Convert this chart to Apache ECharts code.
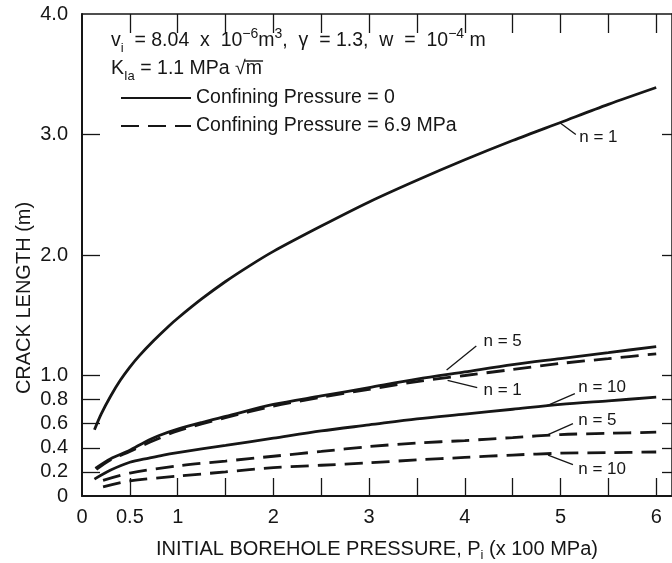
<!DOCTYPE html>
<html>
<head>
<meta charset="utf-8">
<script src="https://cdn.jsdelivr.net/npm/echarts@6/dist/echarts.min.js"></script>
<style>html,body{margin:0;background:#fff}#main{width:672px;height:563px}</style>
</head>
<body>
<div id="main"></div>
<script>
// x = initial borehole pressure (x 100 MPa), y = crack length (m)
var solidN1X = [0.13, 0.2, 0.3, 0.4, 0.5, 0.6, 0.75, 0.9, 1, 1.25, 1.5, 1.75, 2, 2.5, 3, 3.5, 4, 4.5, 5, 5.5, 6];
var solidN1Y = [0.55, 0.68, 0.83, 0.96, 1.07, 1.165, 1.29, 1.405, 1.475, 1.635, 1.78, 1.91, 2.03, 2.24, 2.44, 2.62, 2.79, 2.95, 3.10, 3.25, 3.39];
var solidN5X = [0.14, 0.3, 0.5, 0.65, 0.8, 1, 1.25, 1.5, 2, 2.5, 3, 3.5, 4, 4.5, 5, 5.5, 6];
var solidN5Y = [0.23, 0.31, 0.38, 0.445, 0.50, 0.555, 0.61, 0.66, 0.76, 0.83, 0.90, 0.97, 1.03, 1.09, 1.14, 1.19, 1.24];
var solidN10X = [0.13, 0.3, 0.5, 0.7, 0.85, 1, 1.5, 2, 2.5, 3, 3.5, 4, 4.5, 5, 5.5, 6];
var solidN10Y = [0.14, 0.215, 0.28, 0.315, 0.34, 0.36, 0.42, 0.48, 0.54, 0.59, 0.64, 0.68, 0.72, 0.76, 0.79, 0.82];
var dashN1X = [0.15, 0.3, 0.5, 0.75, 1, 1.5, 2, 2.5, 3, 3.5, 4, 4.5, 5, 5.5, 6];
var dashN1Y = [0.22, 0.30, 0.37, 0.46, 0.54, 0.65, 0.745, 0.82, 0.885, 0.95, 1.0, 1.05, 1.10, 1.14, 1.18];
var dashN5X = [0.22, 0.5, 1, 1.5, 2, 2.5, 3, 3.5, 4, 4.5, 5, 5.5, 6];
var dashN5Y = [0.13, 0.19, 0.25, 0.29, 0.33, 0.37, 0.41, 0.44, 0.46, 0.485, 0.51, 0.52, 0.53];
var dashN10X = [0.22, 0.5, 1, 1.5, 2, 2.5, 3, 3.5, 4, 4.5, 5, 5.5, 6];
var dashN10Y = [0.075, 0.125, 0.165, 0.20, 0.235, 0.255, 0.275, 0.30, 0.32, 0.34, 0.355, 0.36, 0.365];

var xTicks = [0.5, 1, 1.5, 2, 2.5, 3, 3.5, 4, 4.5, 5, 5.5, 6];
var xLabels = [0, 0.5, 1, 2, 3, 4, 5, 6];
var yTicks = [0.2, 0.4, 0.6, 0.8, 1, 2, 3];
var yLabels = [0, 0.2, 0.4, 0.6, 0.8, 1, 2, 3, 4];

// curve annotations: text position, arrow tail, arrow tip (data coords)
var noteText = ['n = 1', 'n = 5', 'n = 1', 'n = 10', 'n = 5', 'n = 10'];
var notePos = [[5.18, 2.98], [4.18, 1.28], [4.18, 0.88], [5.17, 0.90], [5.17, 0.63], [5.17, 0.22]];
var noteTail = [[5.16, 3.0], [4.12, 1.245], [4.13, 0.90], [5.15, 0.85], [5.13, 0.60], [5.13, 0.26]];
var noteTip = [[4.99, 3.10], [3.81, 1.046], [3.82, 0.96], [4.86, 0.75], [4.87, 0.51], [4.87, 0.34]];

var LEG_SOLID = 'Confining Pressure = 0';
var LEG_DASH = 'Confining Pressure = 6.9 MPa';
var FONT = '"Liberation Sans", Arial, sans-serif';
var INK = '#161616';
var FS = 19.5;

function zip(xs, ys) {
    return xs.map(function (x, i) { return [x, ys[i]]; });
}

function curve(name, xs, ys, dashed) {
    return {
        type: 'line', name: name, data: zip(xs, ys),
        smooth: 0.3, symbol: 'none', silent: true,
        itemStyle: { color: INK },
        lineStyle: { color: INK, width: 2.8, type: dashed ? [18, 9] : 'solid' }
    };
}

var series = [
    curve(LEG_SOLID, solidN1X, solidN1Y, false),
    curve(LEG_SOLID, solidN5X, solidN5Y, false),
    curve(LEG_SOLID, solidN10X, solidN10Y, false),
    curve(LEG_DASH, dashN1X, dashN1Y, true),
    curve(LEG_DASH, dashN5X, dashN5Y, true),
    curve(LEG_DASH, dashN10X, dashN10Y, true)
];
// arrows + n labels hung on the first curve
series[0].markLine = {
    silent: true, symbol: ['none', 'arrow'], symbolSize: [0, 9],
    lineStyle: { color: INK, width: 1.3, type: 'solid' },
    label: { show: false },
    data: noteTail.map(function (t, i) { return [{ coord: t }, { coord: noteTip[i] }]; })
};
series[0].markPoint = {
    silent: true, symbol: 'circle', symbolSize: 1,
    itemStyle: { color: 'rgba(0,0,0,0)' },
    label: { show: true, position: 'right', distance: 1, color: INK, fontSize: 17, fontFamily: FONT },
    data: notePos.map(function (p, i) { return { coord: p, label: { formatter: noteText[i] } }; })
};

var rich = {
    sup: { fontSize: 14, fontFamily: FONT, verticalAlign: 'top', lineHeight: 28, fill: INK },
    sub: { fontSize: 13, fontFamily: FONT, verticalAlign: 'bottom', lineHeight: 28, fill: INK },
    n: { fontSize: FS, fontFamily: FONT, lineHeight: 28, fill: INK }
};

// measure text so the radical bar sits over "m"
var mctx = document.createElement('canvas').getContext('2d');
function textW(s, size) { mctx.font = size + 'px ' + FONT; return mctx.measureText(s).width; }
var rowLeft = 111;
var row1Top = 27, row2Top = 55;
var rootX = rowLeft + textW('K', FS) + textW('Ia', 13) + textW(' = 1.1 MPa ', FS);

var option = {
    animation: false,
    backgroundColor: '#fff',
    textStyle: { fontFamily: FONT, color: INK },
    grid: { left: 82, right: 0, top: 14, bottom: 67, containLabel: false, outerBoundsMode: 'none' },
    legend: {
        data: [LEG_SOLID, LEG_DASH], orient: 'vertical', left: 120, top: 88, padding: 0,
        itemWidth: 70, itemHeight: 14, itemGap: 8, selectedMode: false,
        itemStyle: { opacity: 0 },
        textStyle: { fontSize: FS, color: INK, fontFamily: FONT }
    },
    xAxis: [{
        type: 'value', min: 0, max: 6.165, position: 'bottom',
        name: 'INITIAL BOREHOLE PRESSURE, P{sub|i} (x 100 MPa)', nameLocation: 'middle', nameGap: 40,
        nameTextStyle: { fontSize: 20, color: INK, fontFamily: FONT,
            rich: { sub: { fontSize: 13, verticalAlign: 'bottom', lineHeight: 26, fontFamily: FONT, color: INK } } },
        axisLine: { onZero: false, lineStyle: { color: INK, width: 2 } },
        axisTick: { inside: true, length: 18, customValues: xTicks, lineStyle: { color: INK, width: 1.3 } },
        axisLabel: { customValues: xLabels, margin: 11, fontSize: 20, color: INK, fontFamily: FONT,
            formatter: function (v) { return String(v); } },
        splitLine: { show: false }
    }, {
        type: 'value', min: 0, max: 6.165, position: 'top',
        axisLine: { onZero: false, lineStyle: { color: INK, width: 1.5 } },
        axisTick: { inside: true, length: 19, customValues: xTicks, lineStyle: { color: INK, width: 1.3 } },
        axisLabel: { show: false }, splitLine: { show: false }
    }],
    yAxis: [{
        type: 'value', min: 0, max: 4, position: 'left',
        axisLine: { onZero: false, lineStyle: { color: INK, width: 2 } },
        axisTick: { inside: true, length: 18, customValues: yTicks, lineStyle: { color: INK, width: 1.3 } },
        axisLabel: { customValues: yLabels, margin: 14, fontSize: 20, color: INK, fontFamily: FONT,
            formatter: function (v) { return v === 0 ? '0' : v.toFixed(1); } },
        splitLine: { show: false }
    }, {
        type: 'value', min: 0, max: 4, position: 'right',
        axisLine: { onZero: false, lineStyle: { color: INK, width: 1.5 } },
        axisTick: { inside: true, length: 10, customValues: yTicks, lineStyle: { color: INK, width: 1.3 } },
        axisLabel: { show: false }, splitLine: { show: false }
    }],
    graphic: [
        { type: 'text', x: rowLeft, y: row1Top, silent: true,
          style: { text: '{n|v}{sub|i}{n|  = 8.04  x  10}{sup|−6}{n|m}{sup|3}{n|,  γ  = 1.3,  w  =  10}{sup|−4}{n| m}', rich: rich } },
        { type: 'text', x: rowLeft, y: row2Top, silent: true,
          style: { text: '{n|K}{sub|Ia}{n| = 1.1 MPa}', rich: rich } },
        { type: 'text', x: rootX, y: row2Top, silent: true,
          style: { text: '{n|√m}', rich: rich } },
        { type: 'line', silent: true,
          shape: { x1: rootX + textW('√', FS) - 1, y1: row2Top + 6, x2: rootX + textW('√m', FS) + 1, y2: row2Top + 6 },
          style: { stroke: INK, lineWidth: 1.4 } },
        { type: 'text', x: 24, y: 298, rotation: Math.PI / 2, silent: true,
          style: { text: 'CRACK LENGTH (m)', fontSize: 20, fontFamily: FONT, fill: INK, align: 'center', verticalAlign: 'middle' } }
    ],
    series: series
};

var chart = echarts.init(document.getElementById('main'));
chart.setOption(option);
</script>
</body>
</html>
